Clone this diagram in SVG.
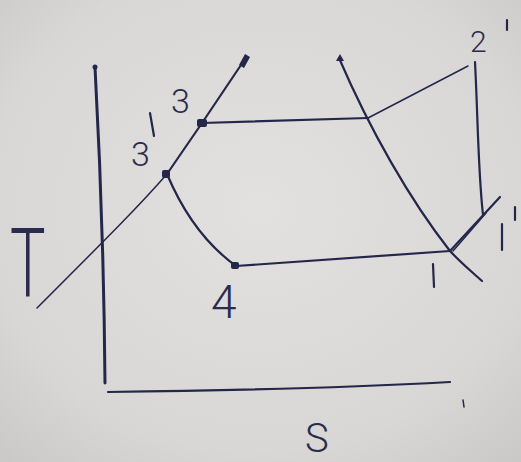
<svg xmlns="http://www.w3.org/2000/svg" width="521" height="462" viewBox="0 0 521 462">
  <defs>
    <radialGradient id="paper" cx="0.5" cy="0.45" r="0.75">
      <stop offset="0" stop-color="#e2e1df"/>
      <stop offset="0.7" stop-color="#d8d7d5"/>
      <stop offset="1" stop-color="#c9c8c6"/>
    </radialGradient>
    <style>
      .ink { fill: none; stroke: #24264a; stroke-linecap: round; stroke-linejoin: round; }
      .thick { stroke-width: 3; }
      .mid { stroke-width: 2.2; }
      .thin { stroke-width: 1.5; }
      .lbl { fill: #2a2c4e; font-family: "Roboto", "Liberation Sans", "DejaVu Sans", sans-serif; font-weight: 300; }
      .dot { fill: #24264a; }
    </style>
  </defs>
  <rect width="521" height="462" fill="url(#paper)"/>

  <g id="axes">
    <path class="ink thick" d="M95,67 C99,140 104,260 105,383"/>
    <circle class="dot" cx="95" cy="67" r="2.5"/>
    <path class="ink mid" d="M108,392 C200,391 340,388 450,382"/>
    <path class="ink thin" d="M463,400 L464,407"/>
    <text class="lbl" x="305" y="452" font-size="40">S</text>
    <text class="lbl" x="0" y="0" font-size="96" transform="translate(10 297) scale(0.62 1)">T</text>
  </g>

  <g id="dome">
    <path class="ink mid" d="M245,59 L202,123 L167,174"/>
    <path class="ink thin" d="M167,174 C140,205 110,235 37,308"/>
    <path class="ink mid" d="M339,58 C370,130 410,200 450,251 C460,262 472,272 482,281"/>
    <path class="dot" d="M239,65 L245,54 L250,57 L244,68 Z"/>
    <path class="dot" d="M336,61 L340,54 L344,61 Z"/>
  </g>

  <g id="cycle">
    <path class="ink mid" d="M202,123 L368,118"/>
    <path class="ink thin" d="M368,118 L468,66"/>
    <path class="ink mid" d="M475,62 C478,120 478,170 483,215"/>
    <path class="ink mid" d="M167,174 C180,205 200,240 236,266"/>
    <path class="ink mid" d="M236,266 L450,251"/>
    <path class="ink mid" d="M450,251 L500,197"/>
    <path class="ink thin" d="M453,251 L486,213"/>
    <rect class="dot" x="197" y="119" width="10" height="8" rx="2"/>
    <rect class="dot" x="162" y="170" width="8" height="8" rx="2"/>
    <rect class="dot" x="231" y="262" width="8" height="7" rx="2"/>
  </g>

  <g id="labels">
    <text class="lbl" x="171" y="113" font-size="34">3</text>
    <text class="lbl" x="131" y="166" font-size="34">3</text>
    <path class="ink mid" d="M150,113 L154,136"/>
    <text class="lbl" x="470" y="52" font-size="30">2</text>
    <path class="ink mid" d="M507,20 L507,30"/>
    <path class="ink mid" d="M502,224 L502,250"/>
    <path class="ink mid" d="M515,207 L515,220"/>
    <path class="ink mid" d="M433,264 L434,287"/>
    <text class="lbl" x="211" y="318" font-size="46">4</text>
  </g>
</svg>
